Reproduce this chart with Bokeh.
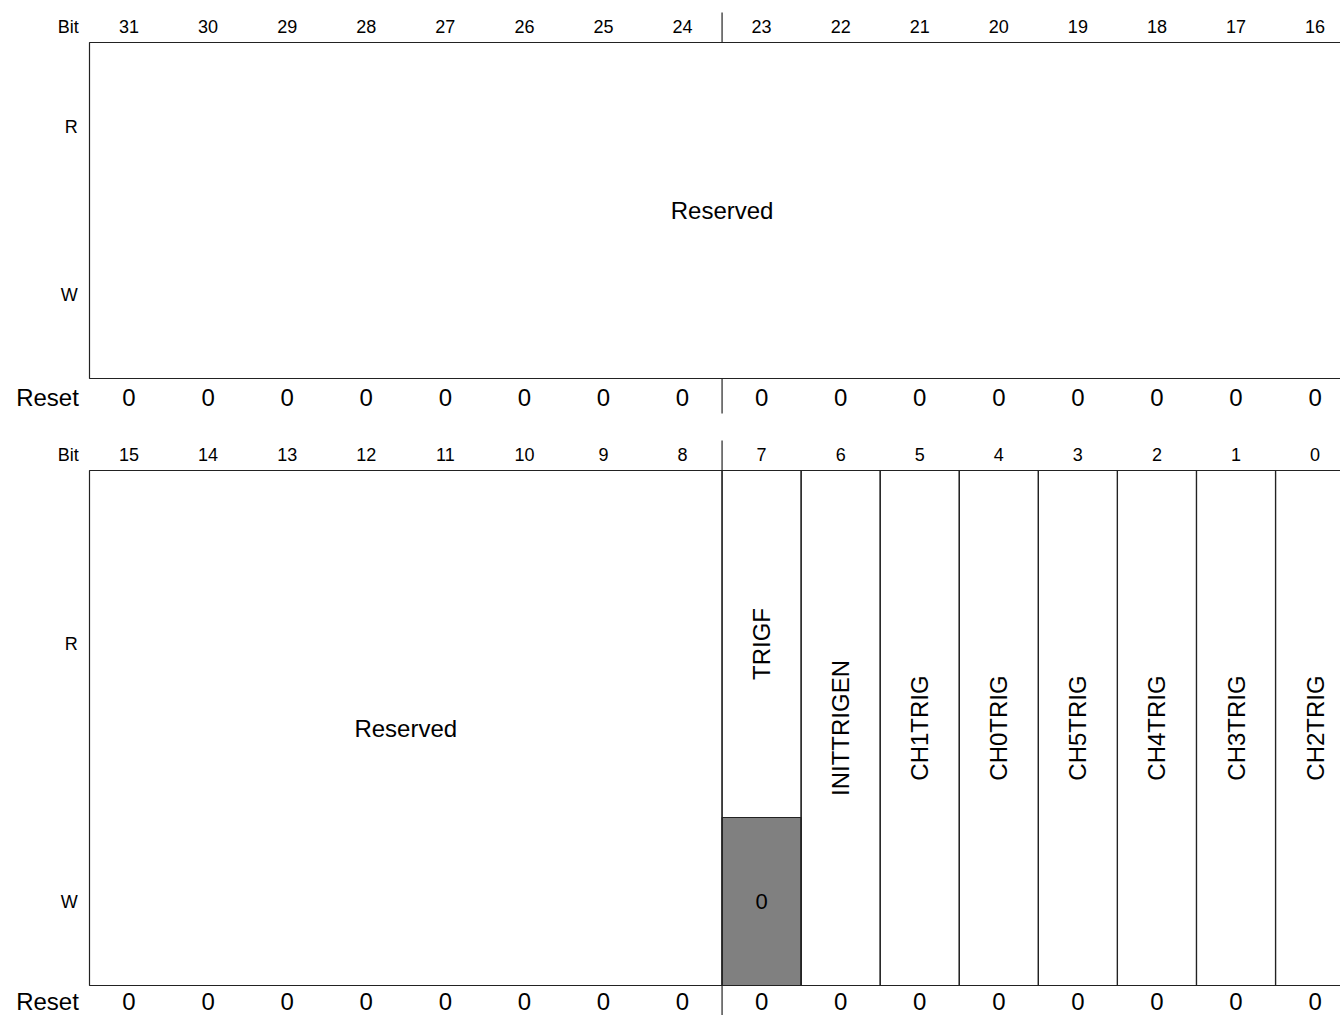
import math
from bokeh.plotting import figure
from bokeh.models import Range1d
from bokeh.core.properties import value
from bokeh.embed import file_html
from bokeh.resources import INLINE

# ---------------- data ----------------
bits_top = [31, 30, 29, 28, 27, 26, 25, 24, 23, 22, 21, 20, 19, 18, 17, 16]
bits_bottom = [15, 14, 13, 12, 11, 10, 9, 8, 7, 6, 5, 4, 3, 2, 1, 0]
reset_top = [0, 0, 0, 0, 0, 0, 0, 0, 0, 0, 0, 0, 0, 0, 0, 0]
reset_bottom = [0, 0, 0, 0, 0, 0, 0, 0, 0, 0, 0, 0, 0, 0, 0, 0]

field_names_top = ["Reserved"]
field_msb_top = [31]
field_lsb_top = [16]

field_names_bottom = ["Reserved", "TRIGF", "INITTRIGEN", "CH1TRIG", "CH0TRIG",
                      "CH5TRIG", "CH4TRIG", "CH3TRIG", "CH2TRIG"]
field_msb_bottom = [15, 7, 6, 5, 4, 3, 2, 1, 0]
field_lsb_bottom = [8, 7, 6, 5, 4, 3, 2, 1, 0]
field_read_only_bottom = [False, True, False, False, False, False, False, False, False]

# write-side fixed cells (shaded)
wcell_bits = [7]
wcell_values = ["0"]

row_labels = ["R", "W"]

# ---------------- layout (positions only) ----------------
LAYOUT = [
    dict(bit_y=26, top=42, mid=210, bottom=378, reset_y=397, tick_top=12, tick_bottom=413),
    dict(bit_y=454, top=470, mid=817, bottom=985, reset_y=1001, tick_top=440, tick_bottom=1030),
]
FONT = value("Liberation Sans")
LINE = "#222222"
SMALL = "18px"
BIG = "24px"

p = figure(width=1340, height=1015, output_backend="svg", toolbar_location=None,
           x_range=Range1d(-1.1256, 15.8214), y_range=Range1d(1015, 0),
           min_border=0, min_border_left=0, min_border_right=0,
           min_border_top=0, min_border_bottom=0)
p.axis.visible = False
p.xgrid.visible = False
p.ygrid.visible = False
p.outline_line_color = None
p.background_fill_color = "white"
p.border_fill_color = "white"


def col(bit, base):
    return base - bit


registers = [
    (bits_top, reset_top, field_names_top, field_msb_top, field_lsb_top,
     [False] * len(field_names_top), 31),
    (bits_bottom, reset_bottom, field_names_bottom, field_msb_bottom, field_lsb_bottom,
     field_read_only_bottom, 15),
]

for r, (bits, resets, names, msbs, lsbs, ronly, base) in enumerate(registers):
    L = LAYOUT[r]
    # bit numbers
    xs = [col(b, base) + 0.5 for b in bits]
    p.text(x=xs, y=[L["bit_y"]] * len(bits), text=[str(b) for b in bits],
           text_font=FONT, text_font_size=SMALL, text_align="center",
           text_baseline="middle", text_color="black")
    p.text(x=[-0.135], y=[L["bit_y"]], text=["Bit"], text_font=FONT,
           text_font_size=SMALL, text_align="right", text_baseline="middle",
           text_color="black")
    # reset values
    p.text(x=xs, y=[L["reset_y"]] * len(bits), text=[str(v) for v in resets],
           text_font=FONT, text_font_size=BIG, text_align="center",
           text_baseline="middle", text_color="black")
    p.text(x=[-0.135], y=[L["reset_y"]], text=["Reset"], text_font=FONT,
           text_font_size=BIG, text_align="right", text_baseline="middle",
           text_color="black")
    # R / W row labels
    p.text(x=[-0.15, -0.15],
           y=[(L["top"] + L["mid"]) / 2, (L["mid"] + L["bottom"]) / 2],
           text=row_labels, text_font=FONT, text_font_size=SMALL,
           text_align="right", text_baseline="middle", text_color="black")
    # byte divider ticks above and below the box
    p.segment(x0=[8, 8], y0=[L["tick_top"], L["bottom"]],
              x1=[8, 8], y1=[L["top"], L["tick_bottom"]],
              line_color=LINE, line_width=1.2)

    # shaded write cells
    if r == 1:
        wl = [col(b, base) for b in wcell_bits]
        p.quad(left=wl, right=[c + 1 for c in wl],
               top=[L["mid"]] * len(wl), bottom=[L["bottom"]] * len(wl),
               fill_color="#808080", line_color=LINE, line_width=1.2)
        p.text(x=[c + 0.5 for c in wl], y=[(L["mid"] + L["bottom"]) / 2] * len(wl),
               text=wcell_values, text_font=FONT, text_font_size="22px",
               text_align="center", text_baseline="middle", text_color="black")

    # field boxes
    lefts = [col(m, base) for m in msbs]
    rights = [col(l, base) + 1 for l in lsbs]
    p.quad(left=lefts, right=rights, top=[L["top"]] * len(names),
           bottom=[L["bottom"]] * len(names), fill_color=None,
           line_color=LINE, line_width=1.2)

    # field names
    hx, hy, ht = [], [], []
    vx, vy, vt = [], [], []
    for n, lft, rgt, ro in zip(names, lefts, rights, ronly):
        cy = (L["top"] + L["mid"]) / 2 if ro else (L["top"] + L["bottom"]) / 2
        if rgt - lft > 1:
            hx.append((lft + rgt) / 2); hy.append(cy); ht.append(n)
        else:
            vx.append((lft + rgt) / 2); vy.append(cy); vt.append(n)
    if ht:
        p.text(x=hx, y=hy, text=ht, text_font=FONT, text_font_size=BIG,
               text_align="center", text_baseline="middle", text_color="black")
    if vt:
        p.text(x=vx, y=vy, text=vt, text_font=FONT, text_font_size=BIG,
               text_align="center", text_baseline="middle", angle=math.pi / 2,
               text_color="black")

open("out.html", "w").write(file_html(p, INLINE))
